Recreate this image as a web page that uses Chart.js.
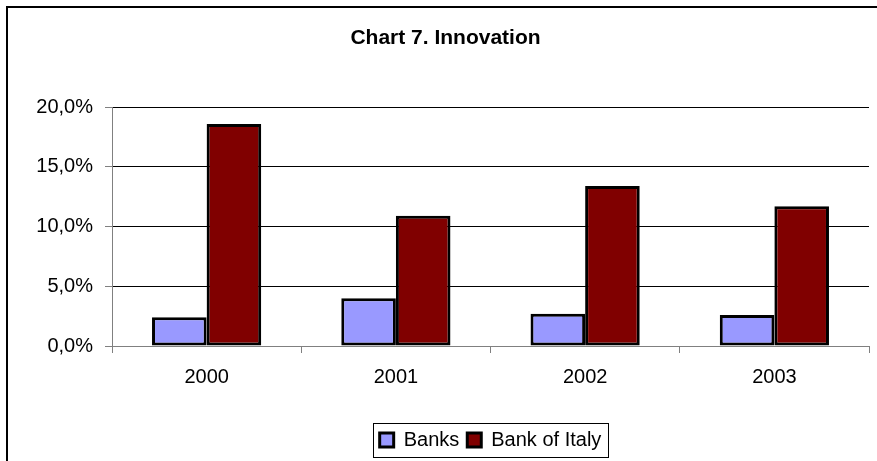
<!DOCTYPE html>
<html>
<head>
<meta charset="utf-8">
<script src="https://cdn.jsdelivr.net/npm/chart.js@4"></script>
<style>
  body { margin: 0; background: #fff; }
  #wrap { width: 877px; height: 461px; position: relative; }
</style>
</head>
<body>
<div id="wrap"><canvas id="grafico"></canvas></div>
<script>
// dados
const anos = ["2000", "2001", "2002", "2003"];
const banks = [2.4, 4.0, 2.7, 2.6];
const bankOfItaly = [18.6, 10.9, 13.4, 11.7];
const yTicks = [0, 5, 10, 15, 20];

const fonte = "Arial, 'Liberation Sans', sans-serif";
Chart.defaults.font.family = fonte;
Chart.defaults.color = "#000";

// desloca legenda e título para o centro da área do gráfico
const centralizar = {
  id: "centralizar",
  afterLayout(chart) {
    const meio = (chart.chartArea.left + chart.chartArea.right) / 2;
    const lg = chart.legend;
    const dl = meio - (lg.left + lg.right) / 2;
    lg.left += dl;
    lg.right += dl;
    (lg.legendHitBoxes || []).forEach((h) => { h.left += dl; });
    const tb = chart.titleBlock;
    const dt = 11;
    tb.left += dt;
    tb.right += dt;
  },
};

// moldura e caixa da legenda
const extras = {
  id: "extras",
  afterDraw(chart) {
    const ctx = chart.ctx;
    ctx.save();
    ctx.strokeStyle = "#000";
    ctx.lineWidth = 2;
    ctx.beginPath();
    ctx.moveTo(7, 461);
    ctx.lineTo(7, 7);
    ctx.lineTo(877, 7);
    ctx.stroke();
    const hb = chart.legend.legendHitBoxes;
    if (hb && hb.length) {
      const first = hb[0];
      const last = hb[hb.length - 1];
      const x0 = Math.round(first.left - 7) + 0.5;
      const x1 = Math.round(last.left + last.width + 7) + 0.5;
      const y0 = Math.round(first.top - 7) + 0.5;
      const y1 = Math.round(first.top + first.height + 7) + 0.5;
      ctx.lineWidth = 1;
      ctx.strokeRect(x0, y0, x1 - x0, y1 - y0);
    }
    ctx.restore();
  },
};

let bar = new Chart(document.getElementById("grafico"), {
  type: "bar",
  data: {
    labels: anos,
    datasets: [
      {
        label: "Banks",
        data: banks,
        backgroundColor: "#9999FF",
        borderColor: "#000",
        borderWidth: 3,
        borderSkipped: false,
      },
      {
        label: "Bank of Italy",
        data: bankOfItaly,
        backgroundColor: "#800000",
        borderColor: "#000",
        borderWidth: 3,
        borderSkipped: false,
      },
    ],
  },
  options: {
    responsive: true,
    maintainAspectRatio: false,
    animation: false,
    categoryPercentage: 0.577,
    barPercentage: 1,
    layout: { padding: { top: 26, right: 8, bottom: 1, left: 0 } },
    scales: {
      x: {
        grid: { display: true, drawOnChartArea: false, color: "#808080", tickLength: 7, offset: true },
        border: { color: "#808080", width: 1 },
        ticks: { font: { size: 20 }, padding: 12 },
        afterFit: (s) => { s.height = 76; },
      },
      y: {
        min: 0,
        max: 20,
        afterBuildTicks: (s) => { s.ticks = yTicks.map((v) => ({ value: v })); },
        grid: { color: "#000", tickLength: 7, tickColor: "#808080" },
        border: { color: "#808080", width: 1 },
        ticks: {
          font: { size: 20 },
          padding: 12,
          callback: (v) => v.toFixed(1).replace(".", ",") + "%",
        },
        afterFit: (s) => { s.width = 112; },
      },
    },
    plugins: {
      legend: {
        position: "bottom",
        labels: {
          font: { size: 20 },
          boxWidth: 14,
          boxHeight: 14,
          padding: 8,
          useBorderRadius: false,
        },
      },
      title: {
        display: true,
        text: "Chart 7. Innovation",
        font: { size: 21, weight: "bold" },
        padding: { top: 0, bottom: 56 },
      },
      tooltip: { enabled: false },
    },
  },
  plugins: [centralizar, extras],
});
</script>
</body>
</html>
